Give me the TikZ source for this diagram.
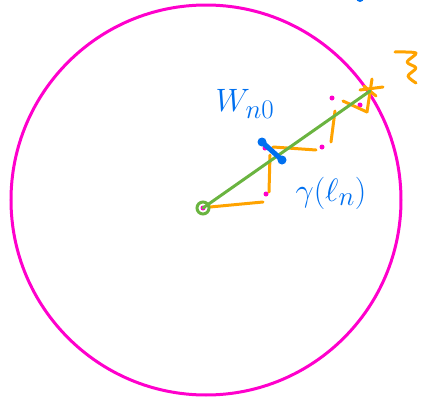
\documentclass[tikz,border=0pt]{standalone}
\usepackage{graphicx}
\usepackage{tikz}
\usetikzlibrary{positioning}
\definecolor{DiscMagenta}{RGB}{255,0,204}
\definecolor{PathGreen}{RGB}{106,180,64}
\definecolor{WalkOrange}{RGB}{255,163,0}
\definecolor{InkBlue}{RGB}{0,112,240}
\newcommand{\inkbig}[1]{\scalebox{1.3}{#1}}

\begin{document}
\begin{tikzpicture}[
      x=1pt, y=-1pt,
      disc/.style={draw=DiscMagenta, line width=3pt},
      walk/.style={draw=WalkOrange, line width=3pt, line cap=round, line join=round},
      geodesic/.style={draw=PathGreen, line width=3pt, line cap=round},
      hit/.style={circle, fill=DiscMagenta, inner sep=0pt, minimum size=5pt},
      inklabel/.style={text=InkBlue, inner sep=0pt, font=\Huge}
    ]
      \useasboundingbox (0,0) rectangle (424,399);
      \draw[disc] (206,200) circle[radius=195];

      % points of the walk
      \coordinate (origin) at (203,208);
      \coordinate (tip) at (370,91);
      \node[hit] (h1) at (266,194) {};
      \node[hit] (h2) at (265,148) {};
      \node[hit] (h3) at (322,147) {};
      \node[hit] (h4) at (332,98) {};
      \node[hit] (h5) at (360,105) {};
      \node[hit] at (origin) {};

      % orange staircase
      \draw[walk] (210,207) -- (263,202);
      \draw[walk] (270,155) -- (269,192);
      \draw[walk] (273,147) -- (316,150);
      \draw[walk] (335,111) -- (331,142);
      \draw[walk] (343,101) -- (367,112);
      % star at the exit
      \draw[walk] (360,90) -- (383,87);
      \draw[walk] (372,79) -- (367,112);
      \draw[walk] (364,86) -- (376,96);

      % green segment
      \draw[geodesic] (origin) circle[radius=6];
      \draw[geodesic] (origin) -- (tip);

      % blue piece
      \draw[InkBlue, line width=5pt, line cap=round] (262,142) -- (282,160);
      \fill[InkBlue] (262,142) circle[radius=4.5];
      \fill[InkBlue] (282,160) circle[radius=4.5];
      \fill[InkBlue] (360,-2) circle[radius=4];

      \node[inklabel] (wlabel) at (245,104) {\inkbig{$W_{n0}$}};
      \node[inklabel] (glabel) at (331,193) {\inkbig{$\gamma(\ell_n)$}};

      % squiggle
      \draw[walk] plot[smooth] coordinates {(395,52) (416,53) (407,62) (416,68) (408,76) (416,83)};
    \end{tikzpicture}
\end{document}
